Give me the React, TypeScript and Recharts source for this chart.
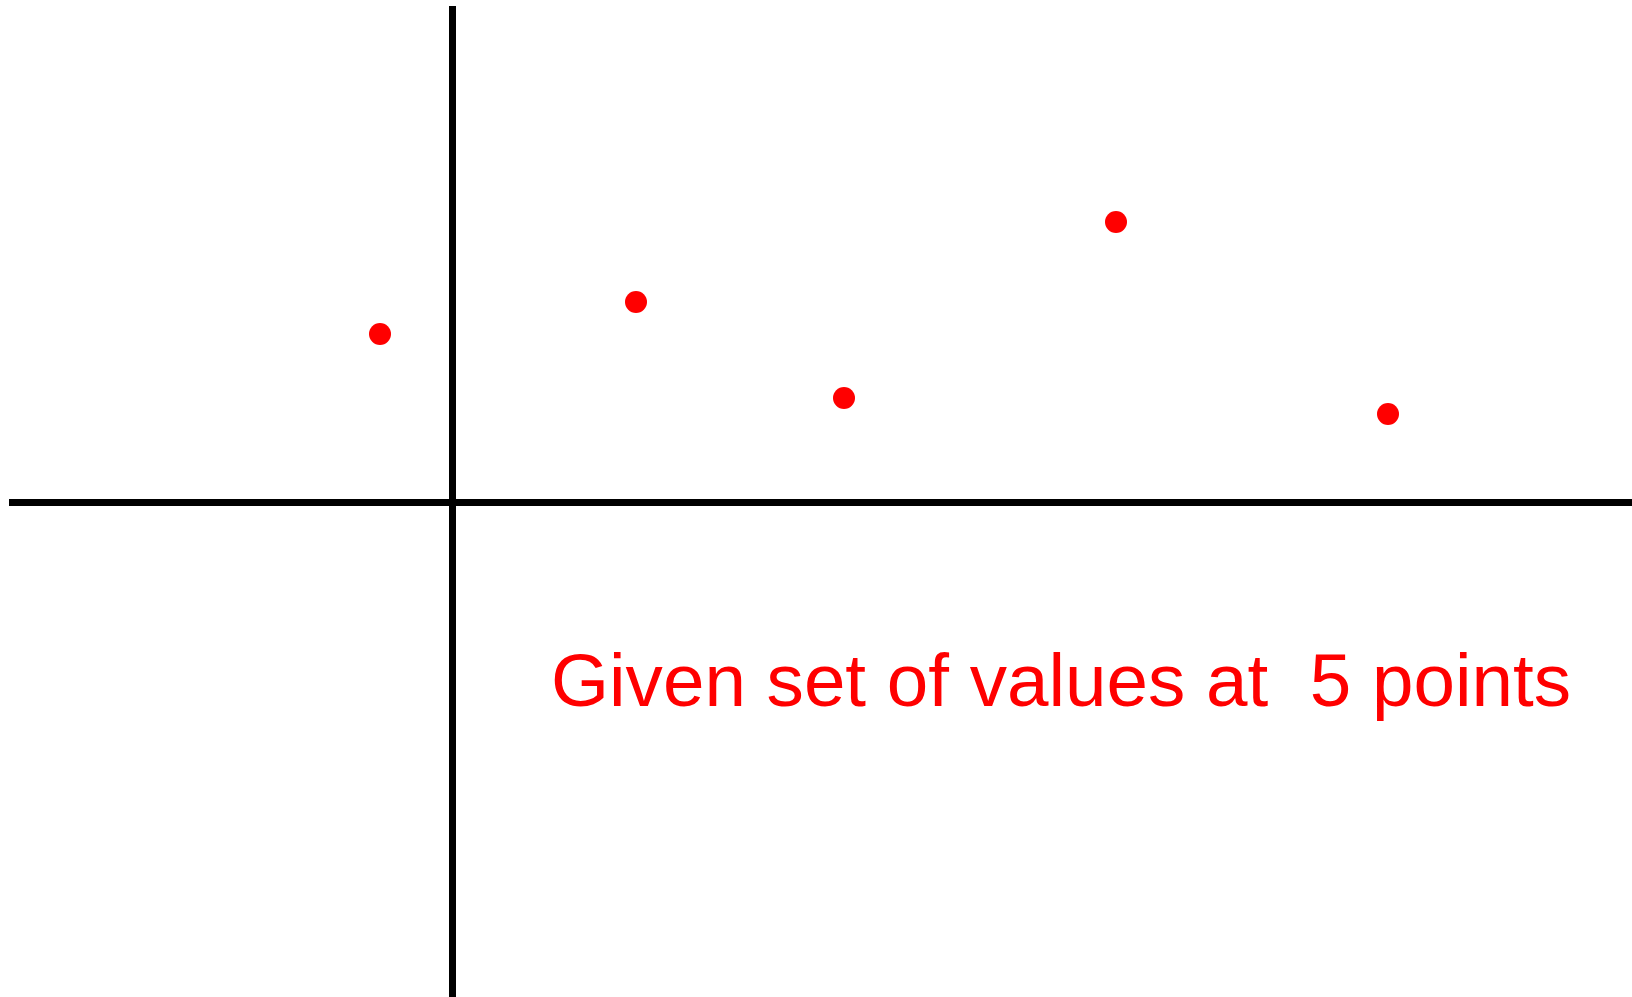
import { ScatterChart, Scatter, XAxis, YAxis, ReferenceLine } from 'recharts';

// Punkte relativ zum Achsenkreuz (1 Einheit = 1 px)
const werteX = [-72.5, 183.5, 391.5, 663.5, 935.5];
const werteY = [168.5, 200.5, 104.5, 280.5, 88.5];
const beschriftung = 'Given set of values at  5 points';

const punkte = werteX.map((x, i) => ({ x, y: werteY[i] }));

const BREITE = 1632;
const HOEHE = 997;
const domX: [number, number] = [-452.5, 1179.5];
const domY: [number, number] = [-494.5, 502.5];

const Punkt = (props: any) => <circle cx={props.cx} cy={props.cy} r={11} fill="#ff0000" />;

export default function App() {
  return (
    <div style={{ position: 'absolute', left: 0, top: 0, width: BREITE, height: HOEHE, background: '#fff' }}>
      <ScatterChart width={BREITE} height={HOEHE} margin={{ top: 0, right: 0, bottom: 0, left: 0 }}>
        <XAxis type="number" dataKey="x" domain={domX} allowDataOverflow hide />
        <YAxis type="number" dataKey="y" domain={domY} allowDataOverflow hide />
        <ReferenceLine
          segment={[{ x: -443.5, y: 0 }, { x: 1179.5, y: 0 }]}
          stroke="#000"
          strokeWidth={7}
          ifOverflow="visible"
        />
        <ReferenceLine
          segment={[{ x: 0, y: 496.5 }, { x: 0, y: -494.5 }]}
          stroke="#000"
          strokeWidth={7}
          ifOverflow="visible"
        />
        <Scatter data={punkte} shape={Punkt} isAnimationActive={false} />
      </ScatterChart>
      <svg width={BREITE} height={HOEHE} style={{ position: 'absolute', left: 0, top: 0, pointerEvents: 'none' }}>
        <text
          x={551}
          y={706}
          fill="#ff0000"
          fontSize={74.6}
          fontFamily="'Liberation Sans', Arial, sans-serif"
          style={{ whiteSpace: 'pre' }}
        >
          {beschriftung}
        </text>
      </svg>
    </div>
  );
}
